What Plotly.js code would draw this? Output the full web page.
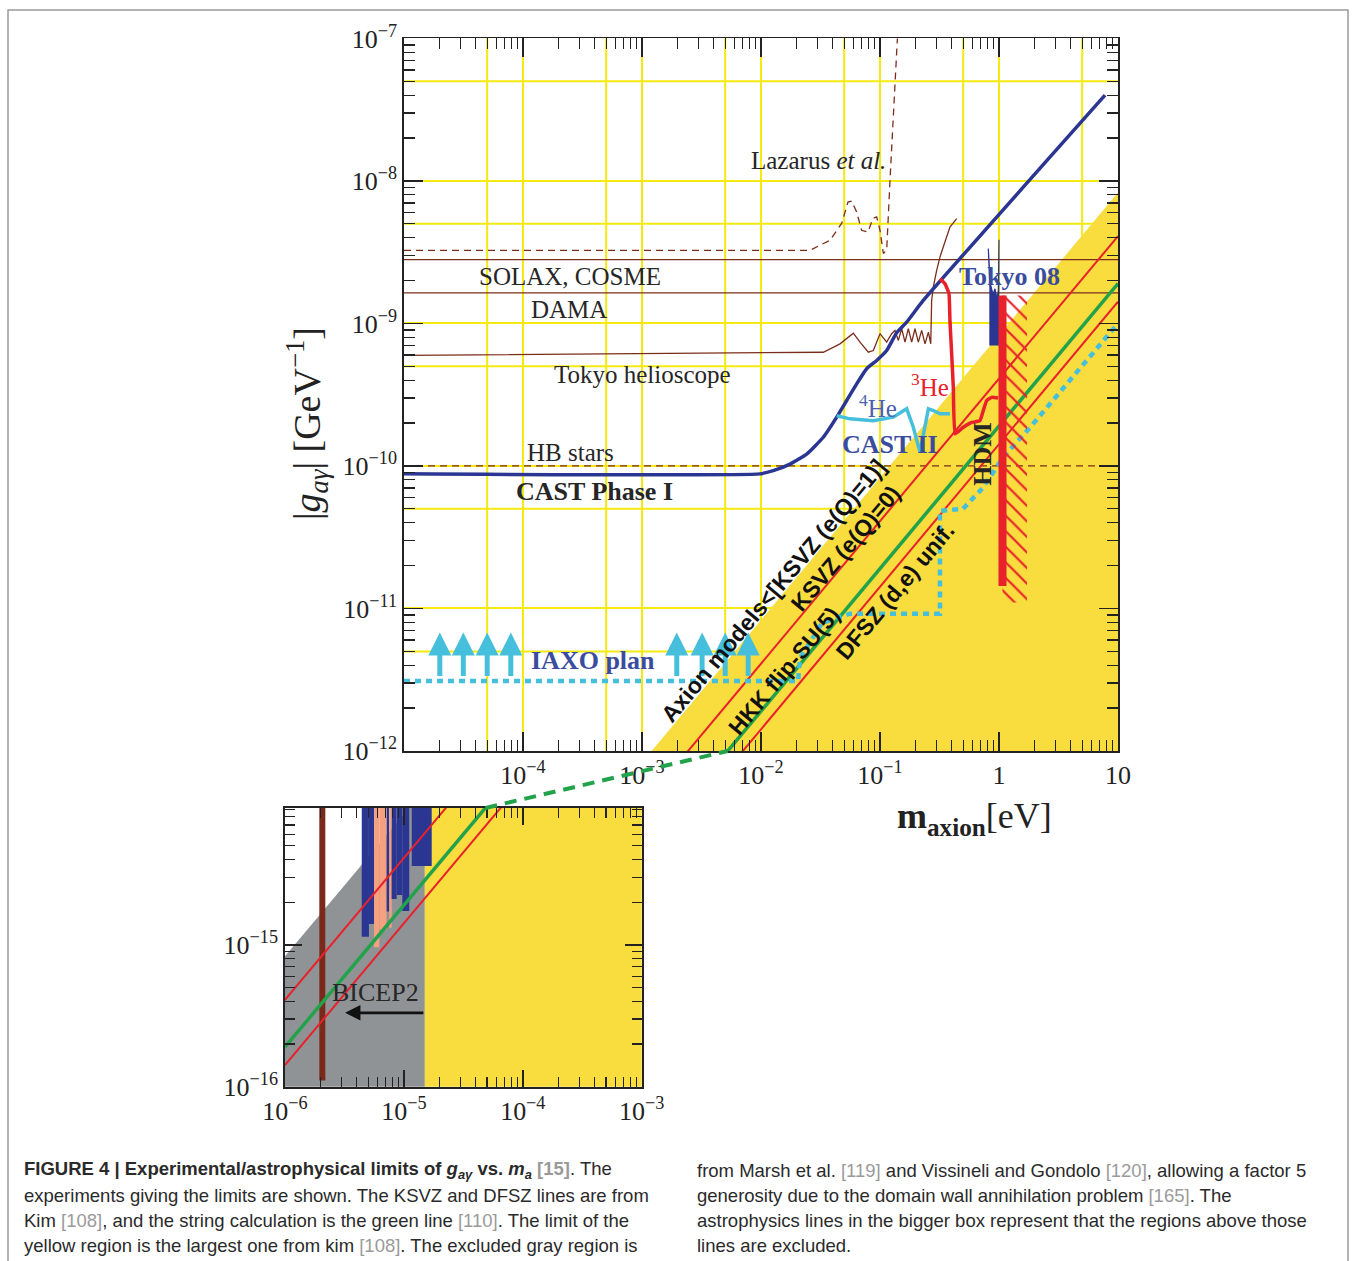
<!DOCTYPE html>
<html><head><meta charset="utf-8">
<script src="https://cdn.plot.ly/plotly-3.0.1.min.js"></script>
<style>html,body{margin:0;padding:0;background:#fff}</style>
</head><body><div id="chart" style="width:1356px;height:1261px"></div>
<script>
// ---------------- DATA (m in eV, g in GeV^-1) ----------------
const lazarus_m = [1e-5, 0.0258, 0.0380, 0.0477, 0.0538, 0.0578, 0.0637, 0.0701, 0.0792, 0.0873, 0.0938, 0.100, 0.1066, 0.1138, 0.1214, 0.1294, 0.138, 0.1416];
const lazarus_g = [3.26e-9, 3.26e-9, 3.83e-9, 5.05e-9, 7.11e-9, 7.23e-9, 6.05e-9, 4.50e-9, 4.38e-9, 5.47e-9, 5.59e-9, 4.5e-9, 3.10e-9, 3.26e-9, 1.01e-8, 2.99e-8, 7.43e-8, 1.2e-7];
const solax_m = [1e-5, 10], solax_g = [2.8e-9, 2.8e-9];
const dama_m = [1e-5, 10], dama_g = [1.64e-9, 1.64e-9];
const hb_m = [1e-5, 10], hb_g = [1.0e-10, 1.0e-10];
const tokyoHelio_m = [1e-5, 0.0334, 0.0461, 0.0597, 0.0679, 0.0798, 0.0879, 0.100, 0.1138, 0.1253, 0.1336,
  0.1426, 0.1521, 0.1622, 0.1730, 0.1846, 0.1968, 0.210, 0.224, 0.239, 0.255, 0.267,
  0.2716, 0.2805, 0.2994, 0.319, 0.340, 0.387, 0.441];
const tokyoHelio_g = [5.96e-10, 6.28e-10, 7.19e-10, 8.55e-10, 7.39e-10, 6.28e-10, 6.45e-10, 8.47e-10, 7.39e-10, 8.47e-10, 8.93e-10,
  7.6e-10, 9.18e-10, 7.39e-10, 9.18e-10, 7.39e-10, 9.18e-10, 7.39e-10, 8.93e-10, 7.19e-10, 8.69e-10, 7.19e-10,
  1.45e-9, 1.80e-9, 2.36e-9, 2.92e-9, 3.44e-9, 4.75e-9, 5.44e-9];
const cast_m = [1e-5, 9.8e-3, 0.01268, 0.01754, 0.0242, 0.0334, 0.0433, 0.0525, 0.0637, 0.0773, 0.0938, 0.1138, 0.138, 0.1675, 0.231, 7.78];
const cast_g = [8.8e-11, 8.8e-11, 9.27e-11, 1.03e-10, 1.21e-10, 1.59e-10, 2.20e-10, 2.88e-10, 3.77e-10, 4.81e-10, 5.50e-10, 6.46e-10, 8.6e-10, 1.02e-9, 1.45e-9, 4.0e-8];
const he4_m = [0.0433, 0.056, 0.0879, 0.1294, 0.1675, 0.1905, 0.2168, 0.239, 0.255, 0.2805, 0.319, 0.387];
const he4_g = [2.25e-10, 2.14e-10, 2.08e-10, 2.20e-10, 2.52e-10, 1.87e-10, 1.25e-10, 1.97e-10, 2.52e-10, 2.45e-10, 2.32e-10, 2.32e-10];
const he3_m = [0.319, 0.3516, 0.380, 0.387, 0.400, 0.413, 0.427, 0.501, 0.590, 0.692, 0.738, 0.788, 0.869, 0.982];
const he3_g = [2.06e-9, 1.90e-9, 1.62e-9, 1.05e-9, 6.15e-10, 3.57e-10, 1.68e-10, 1.87e-10, 2.02e-10, 2.08e-10, 2.45e-10, 2.88e-10, 3.03e-10, 3.0e-10];
const iaxo_m = [1e-5, 0.0205, 0.0213, 0.0326, 0.056, 0.319, 0.319, 0.498, 0.735, 1.08, 1.82, 3.95, 8.57, 10];
const iaxo_g = [3.1e-12, 3.1e-12, 4.5e-12, 7.9e-12, 9.2e-12, 9.2e-12, 4.85e-11, 5.0e-11, 7.05e-11, 1.15e-10, 1.86e-10, 3.98e-10, 8.5e-10, 1.0e-9];
const iaxoArrow_m = [2e-5, 3.15e-5, 5e-5, 7.9e-5, 1.96e-3, 3.2e-3, 5e-3, 7.8e-3];
const iaxoArrow_gBase = 3.36e-12, iaxoArrow_gTip = 6.78e-12;
const tokyo08_m = [0.839, 0.839, 0.813, 0.845, 0.891, 0.925, 0.96, 0.987, 1.0, 1.0, 0.987];
const tokyo08_g = [7.0e-10, 1.8e-9, 3.35e-9, 1.9e-9, 1.6e-9, 1.75e-9, 1.5e-9, 1.7e-9, 3.87e-9, 1.5e-9, 7.0e-10];
const hdm_m = [1.07, 1.07], hdm_g = [1.57e-9, 1.44e-11];
const hdmHatch_m = [1.07, 1.72, 1.72, 1.07], hdmHatch_g = [1.57e-9, 1.57e-9, 1.1e-11, 1.1e-11];
// model lines g = k * m
const lineM = [1e-6, 10];
const kYellow = 8.3e-10, kKSVZ = 4.1e-10, kHKK = 1.905e-10, kDFSZ = 1.42e-10;
// inset data
const grayEdge_m = 1.5e-5;
const insetBars_mlo = [4.42e-6, 5.08e-6, 5.61e-6, 6.21e-6, 7.16e-6, 7.53e-6, 7.89e-6, 8.69e-6, 9.70e-6, 1.164e-5];
const insetBars_mhi = [5.08e-6, 5.61e-6, 6.21e-6, 7.16e-6, 7.53e-6, 7.89e-6, 8.69e-6, 9.70e-6, 1.109e-5, 1.714e-5];
const insetBars_glo = [1.143e-15, 1.406e-15, 9.64e-16, 1.276e-15, 1.718e-15, 1.318e-15, 2.109e-15, 2.249e-15, 1.734e-15, 3.597e-15];
const insetBars_kind = ['b','b','s','s','b','s','b','b','b','b'];
const brownBar_m = [2.06e-6, 2.06e-6], brownBar_g = [1.107e-16, 2e-14];
const bicep_mTail = 1.5e-5, bicep_mHead = 3.2e-6, bicep_g = 3.32e-16;

// ---------------- STYLE ----------------
const W = 1356, H = 1261;
const C = {yellow:'#f9dc3e', grid:'#f4ea10', red:'#e8212a', green:'#22a24a', navy:'#2b3592', cyan:'#45bfdc',
  brown:'#7b2d1c', gray:'#909396', salmon:'#f5a07f', txt:'#262626', blue:'#3a4c9e'};
const xMainDom = [404/W, 1118/W], yMainDom = [1-751/H, 1-38.4/H];
const xInsDom = [285/W, 641.7/W], yInsDom = [1-1086.7/H, 1-808/H];
const xMainR = [-5, 1], yMainR = [-12, -7], xInsR = [-6, -3], yInsR = [-16, -14.035];
const SERIF = 'Liberation Serif', SANS = 'Liberation Sans';
const L = Math.log10;
const sup = e => e === 0 ? '1' : (e === 1 ? '10' : '10<sup>' + (e < 0 ? '\u2212' + (-e) : e) + '</sup>');

const traces = [];
function tr(o, main) { o.xaxis = main ? 'x' : 'x2'; o.yaxis = main ? 'y' : 'y2'; o.showlegend = false; o.hoverinfo = 'skip'; traces.push(o); }

// main: yellow region
tr({x:[lineM[0], lineM[1], lineM[1], lineM[0]], y:[kYellow*lineM[0], kYellow*lineM[1], 1e-16, 1e-16], fill:'toself', fillcolor:C.yellow, line:{width:0}, mode:'lines'}, true);
// brown lines
tr({x:lazarus_m, y:lazarus_g, mode:'lines', line:{color:C.brown, width:1.3, dash:'7px,5px'}}, true);
tr({x:solax_m, y:solax_g, mode:'lines', line:{color:C.brown, width:1.3}}, true);
tr({x:dama_m, y:dama_g, mode:'lines', line:{color:C.brown, width:1.3}}, true);
tr({x:hb_m, y:hb_g, mode:'lines', line:{color:C.brown, width:1.3, dash:'7px,5px'}}, true);
tr({x:tokyoHelio_m, y:tokyoHelio_g, mode:'lines', line:{color:C.brown, width:1.3}}, true);
// model lines (main)
[[kKSVZ, C.red, 2], [kDFSZ, C.red, 2], [kHKK, C.green, 3.5]].forEach(([k, c, w]) => {
  tr({x:lineM, y:lineM.map(m => k*m), mode:'lines', line:{color:c, width:w}}, true);
});
// IAXO
tr({x:iaxo_m, y:iaxo_g, mode:'lines', line:{color:C.cyan, width:4.5, dash:'6px,5px'}}, true);
const shx = [], shy = [];
iaxoArrow_m.forEach(m => { shx.push(m, m, null); shy.push(iaxoArrow_gBase, iaxoArrow_gTip*0.8, null); });
tr({x:shx, y:shy, mode:'lines', line:{color:C.cyan, width:5}}, true);
tr({x:iaxoArrow_m, y:iaxoArrow_m.map(() => iaxoArrow_gTip), mode:'markers', marker:{symbol:'arrow-up', size:23, color:C.cyan, line:{width:0}}}, true);
// CAST
tr({x:cast_m, y:cast_g, mode:'lines', line:{color:C.navy, width:3.5, shape:'spline', smoothing:0.4}}, true);
tr({x:he4_m, y:he4_g, mode:'lines', line:{color:C.cyan, width:3.5}}, true);
tr({x:he3_m, y:he3_g, mode:'lines', line:{color:C.red, width:3.5, shape:'spline', smoothing:0.3}}, true);
// Tokyo 08
tr({x:tokyo08_m, y:tokyo08_g, mode:'lines', fill:'toself', fillcolor:C.navy, line:{color:C.navy, width:1.2}}, true);
// HDM
tr({x:hdmHatch_m, y:hdmHatch_g, mode:'lines', fill:'toself', fillcolor:'rgba(0,0,0,0)', line:{width:0},
   fillpattern:{shape:'\\', fgcolor:C.red, bgcolor:'rgba(0,0,0,0)', size:11, solidity:0.2}}, true);
tr({x:hdm_m, y:hdm_g, mode:'lines', line:{color:C.red, width:8}}, true);

// inset
tr({x:[1e-6, grayEdge_m, grayEdge_m, 1e-6], y:[kYellow*1e-6, kYellow*grayEdge_m, 1e-17, 1e-17], fill:'toself', fillcolor:C.gray, line:{width:0}, mode:'lines'}, false);
tr({x:[grayEdge_m, 1e-2, 1e-2, grayEdge_m], y:[1e-13, 1e-13, 1e-17, 1e-17], fill:'toself', fillcolor:C.yellow, line:{width:0}, mode:'lines'}, false);
insetBars_mlo.forEach((lo, i) => {
  const hi = insetBars_mhi[i], gl = insetBars_glo[i], col = insetBars_kind[i] === 'b' ? C.navy : C.salmon;
  tr({x:[lo, hi, hi, lo], y:[gl, gl, 5e-14, 5e-14], fill:'toself', fillcolor:col, line:{width:0}, mode:'lines'}, false);
});
tr({x:brownBar_m, y:brownBar_g, mode:'lines', line:{color:'#7a2a1a', width:6}}, false);
[[kKSVZ, C.red, 2], [kDFSZ, C.red, 2], [kHKK, C.green, 3.5]].forEach(([k, c, w]) => {
  tr({x:lineM, y:lineM.map(m => k*m), mode:'lines', line:{color:c, width:w}}, false);
});

// ---------------- AXES ----------------
function decTicks(e0, e1) { const v = []; for (let e = e0; e <= e1; e++) v.push(Math.pow(10, e)); return v; }
function minorTicks(e0, e1) { const v = []; for (let e = e0; e < e1; e++) for (let k = 2; k <= 9; k++) v.push(k*Math.pow(10, e)); return v; }
function fives(e0, e1) { const v = []; for (let e = e0; e < e1; e++) v.push(5*Math.pow(10, e)); return v; }
function axisBase(extra) {
  return Object.assign({type:'log', showline:true, linecolor:'#222', linewidth:1.8, mirror:'ticks', ticks:'inside', ticklen:19,
    tickwidth:1.5, tickcolor:'#222', zeroline:false, automargin:false, tickmode:'array',
    tickfont:{family:SERIF, size:26, color:'#222'}}, extra);
}
const xMainTV = decTicks(-5, 1);
const xMainTT = xMainTV.map(v => { const e = Math.round(L(v)); return e > -5 ? sup(e) : ''; });
const yMainTV = decTicks(-12, -7);
const yMainTT = yMainTV.map(v => sup(Math.round(L(v))));
const xInsTV = decTicks(-6, -3), yInsTV = decTicks(-16, -15);
const minorStyle = len => ({ticks:'inside', ticklen:len, tickcolor:'#222', tickwidth:1.2, showgrid:false});

const layout = {
  width: W, height: H, margin:{l:0, r:0, t:0, b:0}, paper_bgcolor:'#fff', plot_bgcolor:'#fff',
  xaxis: axisBase({domain:xMainDom, range:xMainR, anchor:'y', tickvals:xMainTV, ticktext:xMainTT, showgrid:true, gridcolor:C.grid, gridwidth:2,
    minor:Object.assign({tickvals:minorTicks(-5, 1)}, minorStyle(11))}),
  yaxis: axisBase({domain:yMainDom, range:yMainR, anchor:'x', tickvals:yMainTV, ticktext:yMainTT, showgrid:true, gridcolor:C.grid, gridwidth:2,
    minor:Object.assign({tickvals:minorTicks(-12, -7)}, minorStyle(11))}),
  xaxis2: axisBase({domain:xInsDom, range:xInsR, anchor:'y2', tickvals:xInsTV, ticktext:xInsTV.map(v => sup(Math.round(L(v)))), showgrid:false, ticklen:17,
    minor:Object.assign({tickvals:minorTicks(-6, -3)}, minorStyle(10))}),
  yaxis2: axisBase({domain:yInsDom, range:yInsR, anchor:'x2', tickvals:yInsTV, ticktext:yInsTV.map(v => sup(Math.round(L(v)))), showgrid:false, ticklen:17,
    minor:Object.assign({tickvals:minorTicks(-16, -14)}, minorStyle(10))}),
  shapes: [], annotations: []
};
// extra yellow grid lines at 5 x 10^n
fives(-5, 1).forEach(v => layout.shapes.push({type:'line', layer:'below', xref:'x', yref:'y domain', x0:v, x1:v, y0:0, y1:1, line:{color:C.grid, width:2}}));
fives(-12, -7).forEach(v => layout.shapes.push({type:'line', layer:'below', xref:'x domain', yref:'y', x0:0, x1:1, y0:v, y1:v, line:{color:C.grid, width:2}}));

// dashed green connector: from where the HKK line leaves the inset top to where it enters the main plot bottom
function toPaper(dom, rng, v) { return dom[0] + (L(v) - rng[0]) / (rng[1] - rng[0]) * (dom[1] - dom[0]); }
const gInsTop = Math.pow(10, yInsR[1]), gMainBot = Math.pow(10, yMainR[0]);
layout.shapes.push({type:'line', xref:'paper', yref:'paper',
  x0: toPaper(xInsDom, xInsR, gInsTop/kHKK), y0: yInsDom[1],
  x1: toPaper(xMainDom, xMainR, gMainBot/kHKK), y1: yMainDom[0],
  line:{color:C.green, width:4, dash:'12px,8px'}});
// outer frame
layout.shapes.push({type:'rect', xref:'paper', yref:'paper', x0:8/W, x1:1348/W, y0:-0.02, y1:1-10/H, line:{color:'#9a9a9a', width:1.5}, fillcolor:'rgba(0,0,0,0)'});

function ann(m, g, text, o, main) {
  layout.annotations.push(Object.assign({xref: main === false ? 'x2' : 'x', yref: main === false ? 'y2' : 'y', x: L(m), y: L(g), text,
    showarrow:false, font:{family:SERIF, size:25, color:C.txt}}, o || {}));
}
const P = (lx, ly) => [Math.pow(10, lx), Math.pow(10, ly)];
const fB = (c, s) => ({family:SERIF, size:s || 26, color:c});
ann(...P(-1.521, -7.855), 'Lazarus <i>et al.</i>');
ann(...P(-3.605, -8.669), 'SOLAX, COSME');
ann(...P(-3.613, -8.901), 'DAMA');
ann(...P(-3.0, -9.358), 'Tokyo helioscope');
ann(...P(-3.605, -9.906), 'HB stars');
ann(...P(-3.403, -10.180), '<b>CAST Phase I</b>', {font:fB(C.txt, 26)});
ann(...P(0.084, -8.669), '<b>Tokyo 08</b>', {font:fB(C.blue, 26)});
ann(...P(-0.58, -9.435), '<sup>3</sup>He', {font:fB(C.red, 25)});
ann(...P(-1.017, -9.576), '<sup>4</sup>He', {font:fB('#4e5fae', 25)});
ann(...P(-0.916, -9.850), '<b>CAST II</b>', {font:fB(C.blue, 26)});
ann(...P(-3.412, -11.368), '<b>IAXO plan</b>', {font:fB(C.blue, 26)});
ann(...P(-0.134, -9.914), '<b>HDM</b>', {textangle:-90, font:fB(C.txt, 26)});
const rotF = {family:SANS, size:23, color:'#111'};
ann(...P(-1.899, -10.876), '<b>Axion models&lt;[KSVZ (e(Q)=1)]</b>', {textangle:-50, font:rotF});
ann(...P(-1.294, -10.581), '<b>KSVZ (e(Q)=0)</b>', {textangle:-50, font:rotF});
ann(...P(-1.807, -11.439), '<b>HKK flip-SU(5)</b>', {textangle:-50, font:rotF});
ann(...P(-0.874, -10.876), '<b>DFSZ (d,e) unif.</b>', {textangle:-50, font:rotF});
// inset texts
ann(...P(-5.235, -15.338), 'BICEP2', {font:fB(C.txt, 26)}, false);
layout.annotations.push({xref:'x2', yref:'y2', axref:'x2', ayref:'y2', x:L(bicep_mHead), y:L(bicep_g), ax:L(bicep_mTail), ay:L(bicep_g),
  text:'', showarrow:true, arrowhead:2, arrowsize:1.1, arrowwidth:2.8, arrowcolor:'#111'});
// axis titles
layout.annotations.push({xref:'paper', yref:'paper', x:278/W, y:1-424/H, text:'|<i>g</i><sub><i>aγ</i></sub>| [GeV<sup>\u22121</sup>]',
  textangle:-90, showarrow:false, font:{family:SERIF, size:38, color:'#222'}});
layout.annotations.push({xref:'paper', yref:'paper', x:895/W, y:1-818/H, xanchor:'left', text:'<b>m</b><sub><b>axion</b></sub>[eV]',
  showarrow:false, font:{family:SERIF, size:36, color:'#222'}});
// caption
const gr = s => '<span style="color:#9a9a9a">' + s + '</span>';
const capL = [
  '<b>FIGURE 4 | Experimental/astrophysical limits of <i>g</i><sub><i>aγ</i></sub> vs. <i>m</i><sub><i>a</i></sub> </b>' + '<b>' + gr('[15]') + '</b>. The',
  'experiments giving the limits are shown. The KSVZ and DFSZ lines are from',
  'Kim ' + gr('[108]') + ', and the string calculation is the green line ' + gr('[110]') + '. The limit of the',
  'yellow region is the largest one from kim ' + gr('[108]') + '. The excluded gray region is'];
const capR = [
  'from Marsh et al. ' + gr('[119]') + ' and Vissineli and Gondolo ' + gr('[120]') + ', allowing a factor 5',
  'generosity due to the domain wall annihilation problem ' + gr('[165]') + '. The',
  'astrophysics lines in the bigger box represent that the regions above those',
  'lines are excluded.'];
const capY = [1170, 1195, 1220, 1245];
const capF = {family:SANS, size:18.5, color:'#2a2a2a'};
capL.forEach((t, i) => layout.annotations.push({xref:'paper', yref:'paper', x:22/W, y:1-capY[i]/H, xanchor:'left', yanchor:'middle', text:t, showarrow:false, font:capF}));
capR.forEach((t, i) => layout.annotations.push({xref:'paper', yref:'paper', x:695/W, y:1-capY[i]/H, xanchor:'left', yanchor:'middle', text:t, showarrow:false, font:capF}));

Plotly.newPlot('chart', traces, layout, {staticPlot:true, displayModeBar:false});
</script></body></html>
